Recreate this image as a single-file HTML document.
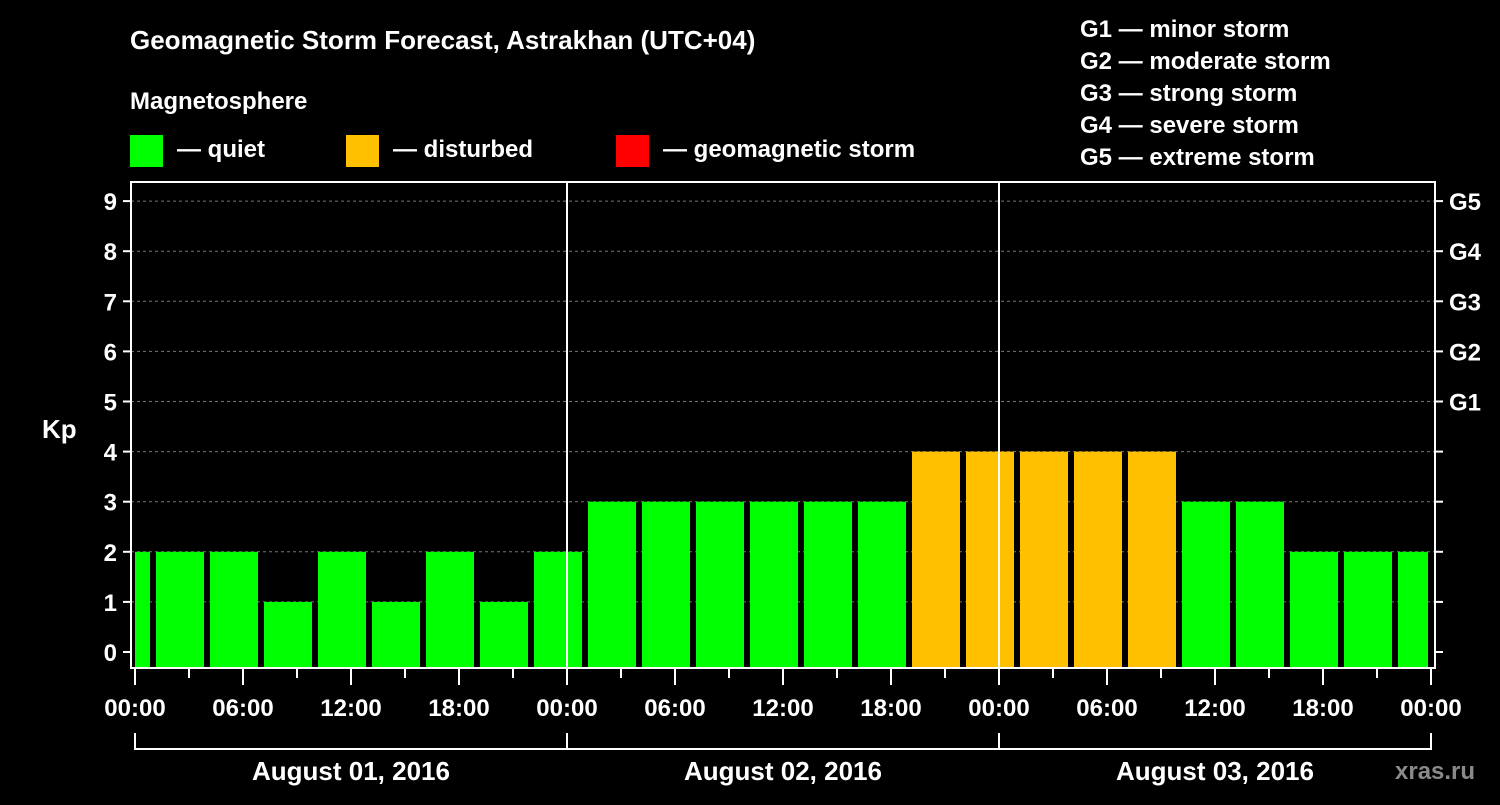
<!DOCTYPE html>
<html><head><meta charset="utf-8"><style>
body{margin:0;background:#000;width:1500px;height:800px;overflow:hidden}
svg text{font-family:"Liberation Sans",sans-serif;font-weight:bold;fill:#fff}
</style></head><body>
<svg id="c" width="1500" height="800">
<text x="130" y="49" font-size="26">Geomagnetic Storm Forecast, Astrakhan (UTC+04)</text>
<text x="130" y="109" font-size="24">Magnetosphere</text>
<rect x="130" y="135" width="33" height="32" fill="#00ff00"/>
<text x="177" y="157" font-size="24">— quiet</text>
<rect x="346" y="135" width="33" height="32" fill="#ffc000"/>
<text x="393" y="157" font-size="24">— disturbed</text>
<rect x="616" y="135" width="33" height="32" fill="#ff0000"/>
<text x="663" y="157" font-size="24">— geomagnetic storm</text>
<g font-size="24">
<text x="1080" y="37">G1 — minor storm</text>
<text x="1080" y="69">G2 — moderate storm</text>
<text x="1080" y="101">G3 — strong storm</text>
<text x="1080" y="133">G4 — severe storm</text>
<text x="1080" y="165">G5 — extreme storm</text>
</g>
<text x="42" y="438" font-size="26">Kp</text>
<text x="1395" y="779" font-size="24" fill="#888" style="fill:#8a8a8a">xras.ru</text>
<g id="plot"></g>
</svg>
<script>
const values=[2,2,2,1,2,1,2,1,2,3,3,3,3,3,3,4,4,4,4,4,3,3,2,2,2];
const levels=[1,1,1,1,1,1,1,1,1,1,1,1,1,1,1,2,2,2,2,2,1,1,1,1,1];
const yTicks=[0,1,2,3,4,5,6,7,8,9];
const gLabels=["G1","G2","G3","G4","G5"];
const hourLabels=["00:00","06:00","12:00","18:00"];
const days=["August 01, 2016","August 02, 2016","August 03, 2016"];
const X0=135,HPX=18,L=131,R=1435,T=182,B=668;
const x=h=>X0+h*HPX, y=v=>652-v*50.1;
const colors=["","#00ff00","#ffc000","#ff0000"];
const ns="http://www.w3.org/2000/svg",g=document.getElementById('plot');
function mk(t,a){const e=document.createElementNS(ns,t);for(const k in a)e.setAttribute(k,a[k]);g.appendChild(e);return e;}
yTicks.forEach(v=>{
 if(v>0){const e=mk('line',{x1:L,x2:R,y1:y(v),y2:y(v),stroke:'#777','stroke-dasharray':'3,3'});
 
 }
 const t=mk('line',{x1:L-8,x2:L,y1:y(v),y2:y(v),stroke:'#fff','stroke-width':2});
 
 
 const t2=mk('line',{x1:R,x2:R+8,y1:y(v),y2:y(v),stroke:'#fff','stroke-width':2});
 
 
 const l=mk('text',{x:L-14,y:y(v)+9,'font-size':24,'text-anchor':'end'});l.textContent=v;
 
 
});
gLabels.forEach((s,i)=>{const l=mk('text',{x:R+14,y:y(5+i)+9,'font-size':24});l.textContent=s;
 
 });
values.forEach((v,i)=>{
 let a=x(-2+3*i)+3,b=x(1+3*i)-3;a=Math.max(a,X0);b=Math.min(b,x(72)-3);
 const r=mk('rect',{x:a,y:y(v),width:b-a,height:B-y(v),fill:colors[levels[i]]});
 
 
});
[24,48].forEach(h=>{const e=mk('line',{x1:x(h),x2:x(h),y1:T,y2:B,stroke:'#fff','stroke-width':2});
 
 });
const f=mk('rect',{x:L,y:T,width:R-L,height:B-T,fill:'none',stroke:'#fff','stroke-width':2});


for(let h=0;h<=72;h+=3){const big=h%6==0;
 const e=mk('line',{x1:x(h),x2:x(h),y1:B,y2:B+(big?17:10),stroke:'#fff','stroke-width':2});
 
 
 if(big){const l=mk('text',{x:x(h),y:716,'font-size':24,'text-anchor':'middle'});l.textContent=hourLabels[(h/6)%4];
 
 }}
days.forEach((d,i)=>{
 const p=mk('path',{d:`M${x(24*i)} 733V749H${x(24*i+24)}V733`,fill:'none',stroke:'#fff','stroke-width':2});
 
 
 const l=mk('text',{x:x(24*i+12),y:780,'font-size':26,'text-anchor':'middle'});l.textContent=d;
 
 
});
</script>
</body></html>
